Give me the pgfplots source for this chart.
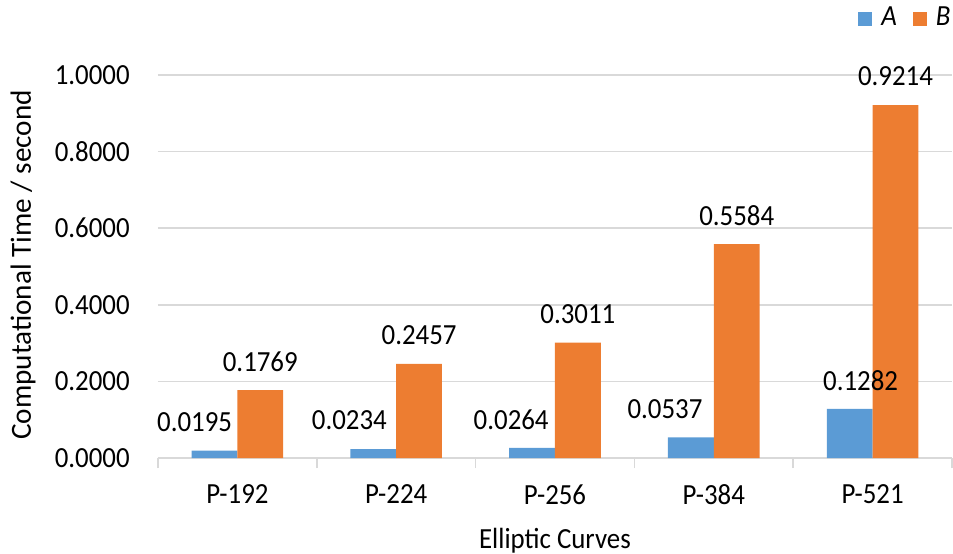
\documentclass[border=0pt]{standalone}
\usepackage{pgfplots}
\usepackage{pgfplotstable}
\pgfplotsset{compat=1.18}
\usepackage{fontspec}
\setmainfont{Carlito}[FakeStretch=0.92]
\newfontfamily\uprightfont{Carlito}

\definecolor{serA}{HTML}{5B9BD5}
\definecolor{serB}{HTML}{ED7D31}
\definecolor{gridgray}{HTML}{D9D9D9}

% computational time per curve; dx nudges the A labels sideways
\pgfplotstableread{
x a b dx
0 0.0195 0.1769 -10
1 0.0234 0.2457 -12
2 0.0264 0.3011 -10.5
3 0.0537 0.5584 -13
4 0.1282 0.9214 5.5
}\timings

\newcommand{\chartfont}{\fontsize{14.6bp}{17bp}\selectfont}

\begin{document}
\chartfont
\begin{tikzpicture}
\begin{axis}[
  name=ax,
  scale only axis, width=397bp, height=191.5bp,
  ybar=0pt, bar width=22.9bp,
  xmin=-0.5, xmax=4.5, ymin=0, ymax=1,
  axis lines*=left,
  x axis line style={gridgray, line width=0.75bp},
  y axis line style={draw=none},
  tick align=outside,
  major tick length=0pt,
  xtick={0,...,4},
  xticklabels={P-192,P-224,P-256,P-384,P-521},
  major x tick style={draw=none},
  minor xtick={-0.5,0.5,...,4.5},
  minor x tick style={gridgray, line width=0.75bp},
  minor tick length=5bp,
  ytick={0,0.2,...,1.0},
  ytick style={draw=none},
  ymajorgrids,
  major grid style={gridgray, line width=0.75bp},
  /pgf/number format/assume math mode=true,
  yticklabel style={/pgf/number format/fixed, /pgf/number format/fixed zerofill,
    /pgf/number format/precision=4, anchor=east, xshift=-9.1bp},
  xticklabel style={anchor=center, yshift=-18.25bp},
  xlabel={Elliptic Curves},
  ylabel={\uprightfont Computational Time / second},
  xlabel style={at={(axis description cs:0.5,-0.215)}, anchor=center},
  ylabel style={at={(axis description cs:-0.170,0.504)}, anchor=center},
  legend style={at={(rel axis cs:1.003,1.147)}, anchor=east, draw=none, fill=none,
    inner sep=0pt, outer sep=0pt,
    legend columns=2, /tikz/every even column/.append style={column sep=6bp}},
  legend image code/.code={\fill[#1] (0bp,-3.5bp) rectangle (7bp,3.5bp); \path (9.5bp,0bp);},
  nodes near coords={\pgfmathprintnumber[fixed,fixed zerofill,precision=4]{\pgfplotspointmeta}},
  every node near coord/.append style={font=\chartfont, text=black, anchor=center, yshift=14.3bp},
  clip=false,
]
\addplot[fill=serA, draw=none,
  visualization depends on={\thisrow{dx} \as \dx},
  every node near coord/.append style={xshift=\dx pt}]
  table[x=x, y=a] {\timings};
\addplot[fill=serB, draw=none] table[x=x, y=b] {\timings};
\legend{\textit{A}, \textit{B}}
\end{axis}
\pgfresetboundingbox
\path (ax.south west) ++(-79bp,-48bp) rectangle ++(476.5bp,277bp);
\end{tikzpicture}
\end{document}
